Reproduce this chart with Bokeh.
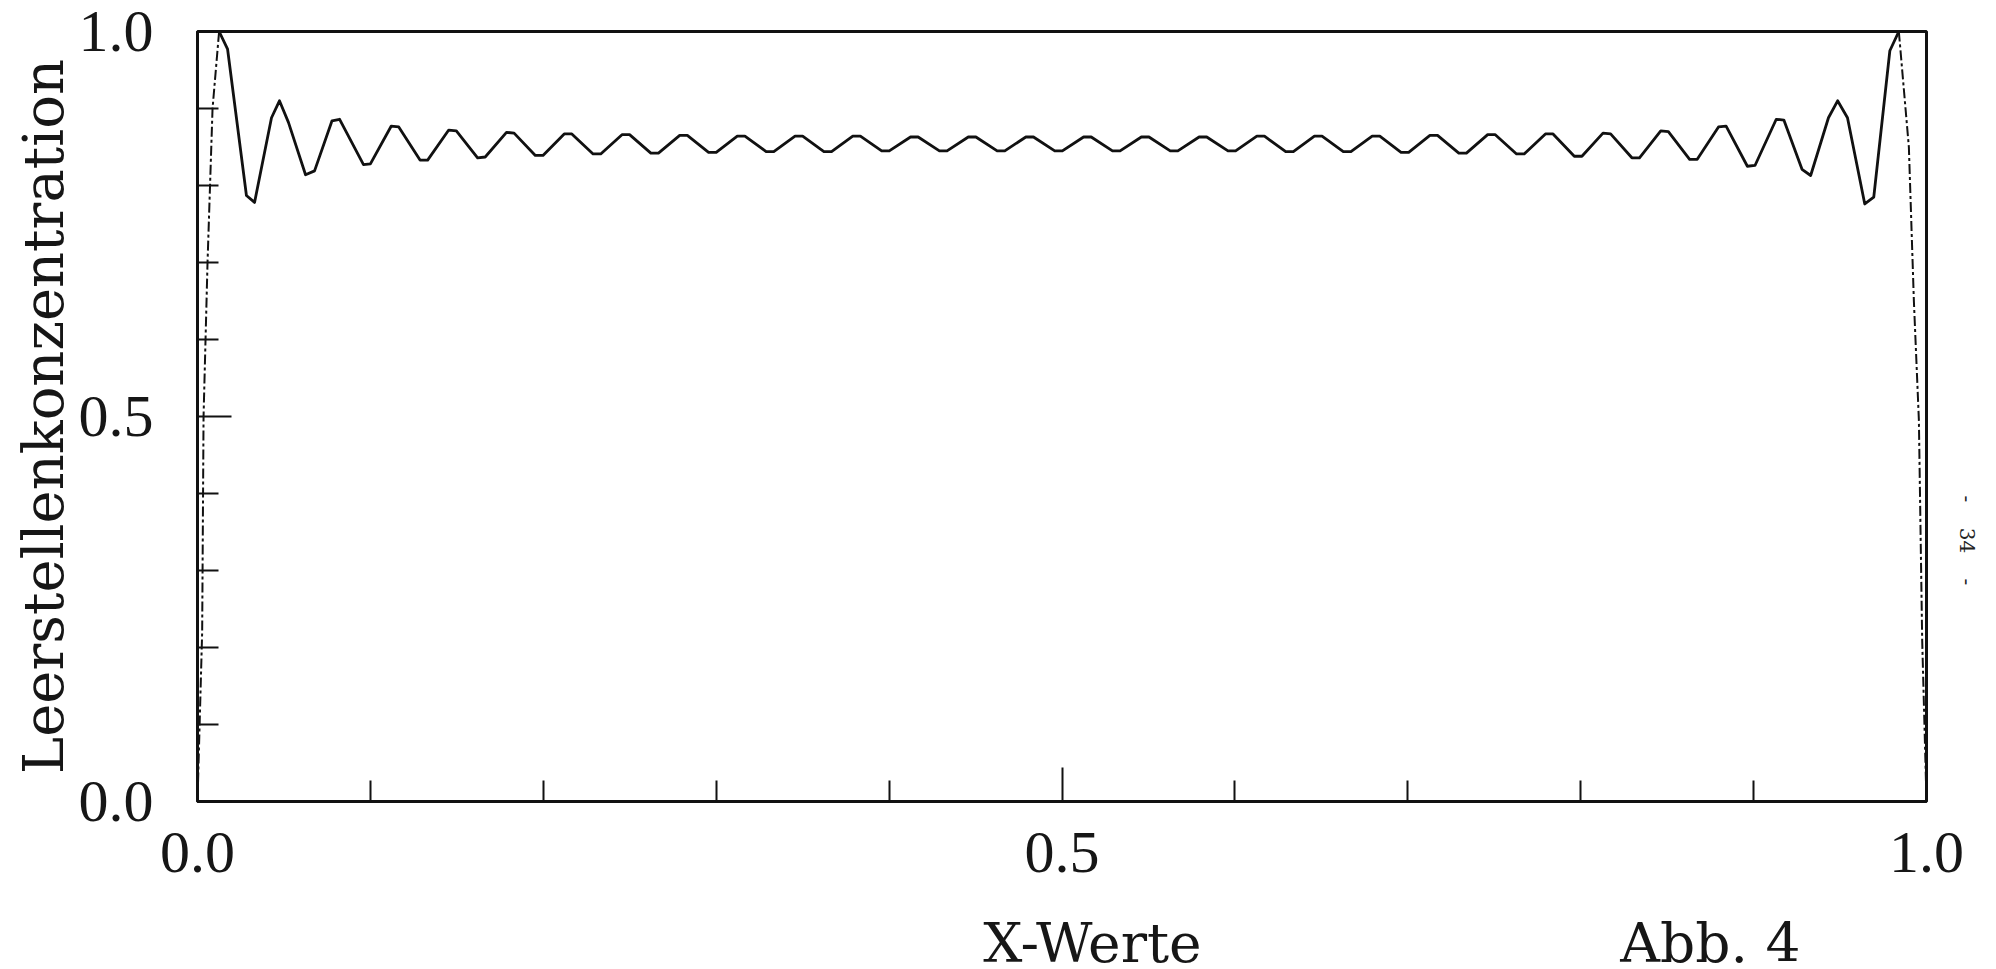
from bokeh.plotting import figure
from bokeh.models import FixedTicker, Label, Range1d, NumeralTickFormatter
from bokeh.embed import file_html
from bokeh.resources import INLINE
import math

# ---------------- data ----------------
x_major_ticks = [0.0, 0.5, 1.0]
x_minor_ticks = [0.1, 0.2, 0.3, 0.4, 0.6, 0.7, 0.8, 0.9]
y_major_ticks = [0.0, 0.5, 1.0]
y_minor_ticks = [0.1, 0.2, 0.3, 0.4, 0.6, 0.7, 0.8, 0.9]

# steep rise at the left boundary (faint, dash-dot in the scan)
rise_x = [0.0, 0.0027, 0.0035, 0.0058, 0.0087, 0.0125]
rise_y = [0.0, 0.22, 0.50, 0.70, 0.90, 1.00]

# steep fall at the right boundary
fall_x = [0.984, 0.9898, 0.9927, 0.9956, 0.9975, 1.0]
fall_y = [1.00, 0.85, 0.65, 0.495, 0.21, 0.0]

# oscillating vacancy concentration profile
curve_x = [
    0.0125, 0.0174, 0.0283, 0.0330, 0.0428, 0.0474, 0.0526, 0.0625, 0.0677,
    0.0778, 0.0822, 0.0960, 0.1000, 0.1120, 0.1164, 0.1287, 0.1331,
    0.1453, 0.1497, 0.1620, 0.1664, 0.1787, 0.1831, 0.1954, 0.1998,
    0.2121, 0.2165, 0.2288, 0.2332, 0.2455, 0.2499, 0.2622, 0.2666,
    0.2789, 0.2833, 0.2956, 0.3000, 0.3122, 0.3166, 0.3289, 0.3333,
    0.3456, 0.3500, 0.3623, 0.3667, 0.3790, 0.3834, 0.3957, 0.4001,
    0.4124, 0.4168, 0.4291, 0.4335, 0.4458, 0.4502, 0.4625, 0.4669,
    0.4791, 0.4835, 0.4958, 0.5002, 0.5125, 0.5169, 0.5292, 0.5336,
    0.5459, 0.5503, 0.5626, 0.5670, 0.5793, 0.5837, 0.5960, 0.6004,
    0.6127, 0.6171, 0.6294, 0.6338, 0.6460, 0.6504, 0.6627, 0.6671,
    0.6794, 0.6838, 0.6961, 0.7005, 0.7128, 0.7172, 0.7295, 0.7339,
    0.7462, 0.7506, 0.7629, 0.7673, 0.7796, 0.7840, 0.7963, 0.8007,
    0.8129, 0.8173, 0.8296, 0.8340, 0.8463, 0.8507, 0.8630, 0.8674,
    0.8797, 0.8841, 0.8964, 0.9008, 0.9131, 0.9175, 0.9280, 0.9330,
    0.9433, 0.9486, 0.9543, 0.9643, 0.9695, 0.9788, 0.9840,
]
curve_y = [
    1.000, 0.977, 0.787, 0.778, 0.888, 0.910, 0.882, 0.814, 0.819,
    0.884, 0.886, 0.827, 0.828, 0.877, 0.876, 0.833, 0.833,
    0.872, 0.871, 0.836, 0.837, 0.869, 0.868, 0.839, 0.839,
    0.867, 0.867, 0.841, 0.841, 0.866, 0.866, 0.842, 0.842,
    0.865, 0.865, 0.843, 0.843, 0.864, 0.864, 0.844, 0.844,
    0.864, 0.864, 0.844, 0.844, 0.864, 0.864, 0.845, 0.845,
    0.863, 0.863, 0.845, 0.845, 0.863, 0.863, 0.845, 0.845,
    0.863, 0.863, 0.845, 0.845, 0.863, 0.863, 0.845, 0.845,
    0.863, 0.863, 0.845, 0.845, 0.863, 0.863, 0.845, 0.845,
    0.864, 0.864, 0.844, 0.844, 0.864, 0.864, 0.844, 0.844,
    0.864, 0.864, 0.843, 0.843, 0.865, 0.865, 0.842, 0.842,
    0.866, 0.866, 0.841, 0.841, 0.867, 0.867, 0.838, 0.838,
    0.868, 0.867, 0.836, 0.836, 0.871, 0.870, 0.834, 0.834,
    0.876, 0.877, 0.825, 0.826, 0.886, 0.885, 0.821, 0.813,
    0.888, 0.910, 0.888, 0.776, 0.785, 0.975, 1.000,
]

y_title = "Leerstellenkonzentration"
x_title = "X-Werte"
fig_title = "Abb. 4"
page_no = "-\u00a0\u00a0\u00a0\u00a034\u00a0\u00a0\u00a0\u00a0-"

# ---------------- figure ----------------
p = figure(frame_width=1729, frame_height=770,
           x_range=Range1d(0, 1), y_range=Range1d(0, 1),
           output_backend="svg", toolbar_location=None,
           min_border_left=197, min_border_right=60,
           min_border_top=31, min_border_bottom=168)

p.background_fill_color = "white"
p.border_fill_color = "white"
p.grid.visible = False
p.outline_line_color = "#111111"
p.outline_line_width = 3

for ax in (p.xaxis[0], p.yaxis[0]):
    ax.axis_line_color = "#111111"
    ax.axis_line_width = 3
    ax.major_tick_in = 34
    ax.major_tick_out = 0
    ax.minor_tick_in = 21
    ax.minor_tick_out = 0
    ax.major_tick_line_width = 2
    ax.minor_tick_line_width = 2
    ax.major_tick_line_color = "#111111"
    ax.minor_tick_line_color = "#111111"
    ax.major_label_text_font = "Liberation Serif"
    ax.major_label_text_font_size = "60px"
    ax.major_label_text_color = "#161616"
    ax.formatter = NumeralTickFormatter(format="0.0")

p.xaxis.ticker = FixedTicker(ticks=x_major_ticks, minor_ticks=x_minor_ticks)
p.yaxis.ticker = FixedTicker(ticks=y_major_ticks, minor_ticks=y_minor_ticks)
p.xaxis.major_label_standoff = 31
p.yaxis.major_label_standoff = 44

p.yaxis.axis_label = y_title
p.yaxis.axis_label_text_font = "DejaVu Serif"
p.yaxis.axis_label_text_font_size = "56px"
p.yaxis.axis_label_text_font_style = "normal"
p.yaxis.axis_label_text_color = "#161616"
p.yaxis.axis_label_standoff = 0

# curve
p.line(rise_x, rise_y, line_color="#111111", line_width=2, line_dash="10 3 3 3")
p.line(fall_x, fall_y, line_color="#111111", line_width=2, line_dash="10 3 3 3")
p.line(curve_x, curve_y, line_color="#111111", line_width=2.8, line_join="round")

# texts placed in side panels (so they are not clipped by the frame)
p.add_layout(Label(x=0.5176, y=-0.1844, text=x_title,
                   text_align="center", text_baseline="alphabetic",
                   text_font="DejaVu Serif", text_font_size="55px",
                   text_color="#161616"), "below")
p.add_layout(Label(x=0.875, y=-0.1844, text=fig_title,
                   text_align="center", text_baseline="alphabetic",
                   text_font="DejaVu Serif", text_font_size="55px",
                   text_color="#161616"), "below")
p.add_layout(Label(x=1.0235, y=0.339, text=page_no, angle=-math.pi / 2,
                   text_align="center", text_baseline="middle",
                   text_font="DejaVu Serif", text_font_size="20px",
                   text_color="#222222"), "right")

open("out.html", "w").write(file_html(p, INLINE))
